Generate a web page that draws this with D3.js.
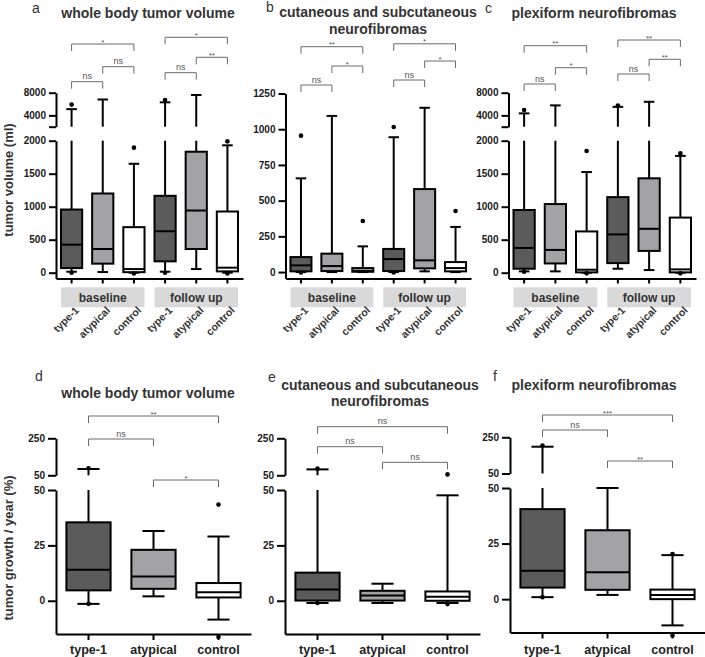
<!DOCTYPE html>
<html><head><meta charset="utf-8">
<script src="https://cdn.jsdelivr.net/npm/d3@7"></script>
<style>
body{margin:0;background:#fff}
svg{display:block}
text{font-family:"Liberation Sans",Arial,sans-serif}
</style>
</head><body><svg id="c" width="705" height="657"></svg>
<script>
// ---------------- DATA ----------------
const groups = ["type-1", "atypical", "control"];
const timepoints = ["baseline", "follow up"];
const groupColors = ["#5b5b5b", "#a3a3a5", "#ffffff"];

// box stats: [low whisker, Q1, median, Q3, high whisker]
// order: baseline type-1, atypical, control, follow up type-1, atypical, control
const volWholeBody = [
  [15, 70, 425, 957, 5100],
  [10, 137, 359, 1200, 6800],
  [0, 8, 55, 690, 1650],
  [15, 172, 628, 1165, 6300],
  [55, 359, 942, 1833, 7600],
  [0, 20, 76, 927, 1930]
];
const volWholeBodyOut = [[5900, 0], [], [1895, -12], [6700, 0], [], [1990, -12]];

const volCutaneous = [
  [0, 5, 47, 105, 656],
  [0, 7, 42, 129, 1093],
  [0, 2, 10, 28, 180],
  [0, 7, 91, 162, 944],
  [5, 26, 82, 581, 1150],
  [0, 5, 28, 70, 316]
];
const volCutaneousOut = [[955, -3], [], [358], [1015, -3], [], [428]];

const volPlexiform = [
  [20, 60, 375, 950, 4350],
  [20, 140, 345, 1040, 5760],
  [0, 5, 45, 625, 1525],
  [60, 145, 580, 1145, 5500],
  [40, 330, 665, 1430, 6400],
  [0, 5, 50, 835, 1770]
];
const volPlexiformOut = [[4930, 15], [], [1845, -10], [5750], [], [1810, -10]];

// order: type-1, atypical, control
const growthWholeBody = [
  [-1.4, 4.7, 14, 35.4, 84],
  [2, 5.4, 11, 23, 31.5],
  [-8.5, 1.5, 3.9, 8, 29]
];
const growthWholeBodyOut = [[88, -1.4], [], [43.4, -16.4]];

const growthCutaneous = [
  [-1, 0.1, 5.1, 12.7, 82],
  [-1, 0.1, 2.4, 4.5, 7.7],
  [-1, 0, 1.8, 4.2, 47.6]
];
const growthCutaneousOut = [[86, -1], [], [55, -1.5]];

const growthPlexiform = [
  [0.9, 5.2, 12.8, 40.5, 198],
  [1.9, 4.2, 12.1, 31, 50],
  [-11.8, 0, 1.9, 4.3, 19.8]
];
const growthPlexiformOut = [[205, 0.9], [], [20.3, -16.3]];

// significance: [from, to, label]
const sigVolWholeBody = [[0, 2, "*"], [0, 1, "ns"], [1, 2, "ns"], [3, 5, "*"], [3, 4, "ns"], [4, 5, "**"]];
const sigVolCutaneous = [[0, 2, "**"], [0, 1, "ns"], [1, 2, "*"], [3, 5, "*"], [3, 4, "ns"], [4, 5, "*"]];
const sigVolPlexiform = [[0, 2, "**"], [0, 1, "ns"], [1, 2, "*"], [3, 5, "**"], [3, 4, "ns"], [4, 5, "**"]];
const sigGrowthWholeBody = [[0, 2, "**"], [0, 1, "ns"], [1, 2, "*"]];
const sigGrowthCutaneous = [[0, 2, "ns"], [0, 1, "ns"], [1, 2, "ns"]];
const sigGrowthPlexiform = [[0, 2, "***"], [0, 1, "ns"], [1, 2, "**"]];

// tick values
const volTicksLower = [0, 500, 1000, 1500, 2000];
const volTicksUpper = [2000, 4000, 8000];
const volTicksCut = [0, 250, 500, 750, 1000, 1250];
const growthTicksLower = [0, 25, 50];
const growthTicksUpper = [50, 250];

// titles
const titleWholeBody = ["whole body tumor volume"];
const titleCutaneous = ["cutaneous and subcutaneous", "neurofibromas"];
const titlePlexiform = ["plexiform neurofibromas"];
const yTitleTop = "tumor volume (ml)";
const yTitleBottom = "tumor growth / year (%)";

// ---------------- LAYOUT ----------------
const panels = [
  {letter: "a", letterPos: [32, 13], title: titleWholeBody, titleX: 148, titleY: [18], top: true,
   stats: volWholeBody, out: volWholeBodyOut, sig: sigVolWholeBody, sigY: [44, 81.7, 66.7, 37.3, 72.7, 57.3],
   xRange: [56, 243], lowerDomain: [-88, 2000], lowerRange: [278.5, 140.7], lowerTicks: volTicksLower,
   upperDomain: [2000, 8000], upperRange: [126.7, 92.7], upperTicks: volTicksUpper, yTitle: yTitleTop, yTitleY: 180},
  {letter: "b", letterPos: [266, 12], title: titleCutaneous, titleX: 378, titleY: [17, 34], top: true,
   stats: volCutaneous, out: volCutaneousOut, sig: sigVolCutaneous, sigY: [46.7, 85, 66, 43.8, 80, 61],
   xRange: [285.5, 471], lowerDomain: [-45, 1250], lowerRange: [278.5, 93.5], lowerTicks: volTicksCut},
  {letter: "c", letterPos: [485, 13], title: titlePlexiform, titleX: 594, titleY: [18], top: true,
   stats: volPlexiform, out: volPlexiformOut, sig: sigVolPlexiform, sigY: [45.7, 84, 67.7, 40, 74, 59.3],
   xRange: [508.5, 696], lowerDomain: [-88, 2000], lowerRange: [278.5, 140.7], lowerTicks: volTicksLower,
   upperDomain: [2000, 8000], upperRange: [126.7, 92.7], upperTicks: volTicksUpper},
  {letter: "d", letterPos: [35, 381], title: titleWholeBody, titleX: 148, titleY: [398], top: false,
   stats: growthWholeBody, out: growthWholeBodyOut, sig: sigGrowthWholeBody, sigY: [416, 439, 480],
   xRange: [56, 251], lowerDomain: [-15, 50], lowerRange: [634, 490], lowerTicks: growthTicksLower,
   upperDomain: [50, 250], upperRange: [475.3, 438.3], upperTicks: growthTicksUpper, yTitle: yTitleBottom, yTitleY: 548},
  {letter: "e", letterPos: [268, 382], title: titleCutaneous, titleX: 380, titleY: [390, 406], top: false,
   stats: growthCutaneous, out: growthCutaneousOut, sig: sigGrowthCutaneous, sigY: [426.7, 446.7, 462.3],
   xRange: [285, 480], lowerDomain: [-15, 50], lowerRange: [634, 490], lowerTicks: growthTicksLower,
   upperDomain: [50, 250], upperRange: [475.3, 438.3], upperTicks: growthTicksUpper},
  {letter: "f", letterPos: [493, 381], title: titlePlexiform, titleX: 594, titleY: [390], top: false,
   stats: growthPlexiform, out: growthPlexiformOut, sig: sigGrowthPlexiform, sigY: [415, 430, 461],
   xRange: [510, 705], lowerDomain: [-15, 50], lowerRange: [632.5, 488], lowerTicks: growthTicksLower,
   upperDomain: [50, 250], upperRange: [473.5, 437.3], upperTicks: growthTicksUpper}
];

const svg = d3.select("#c");

function styleAxis(sel, width) {
  sel.select(".domain").attr("stroke", "#000").attr("stroke-width", width);
  sel.selectAll(".tick line").attr("stroke", "#000").attr("stroke-width", width);
  sel.selectAll(".tick text").attr("font-size", 10).attr("font-weight", "bold").attr("fill", "#1a1a1a")
     .attr("font-family", '"Liberation Sans", Arial, sans-serif');
}

function drawPanel(p) {
  const g = svg.append("g");
  const n = p.stats.length;
  const x = d3.scaleBand().domain(d3.range(n)).range(p.xRange);
  const bw = x.bandwidth();
  const cx = i => x(i) + bw / 2;
  const yL = d3.scaleLinear().domain(p.lowerDomain).range(p.lowerRange);
  const yU = p.upperDomain ? d3.scaleLinear().domain(p.upperDomain).range(p.upperRange) : null;
  const brk = yU ? p.upperDomain[0] : Infinity;
  const y = v => (yU && v > brk) ? yU(v) : yL(v);
  const tickLen = p.top ? 7 : 8;
  const fmt = d3.format("d");

  // y axes
  const gL = g.append("g").attr("transform", `translate(${p.xRange[0]},0)`)
    .call(d3.axisLeft(yL).tickValues(p.lowerTicks).tickFormat(fmt).tickSize(tickLen).tickSizeOuter(0).tickPadding(3));
  styleAxis(gL, 2);
  if (yU) {
    const gU = g.append("g").attr("transform", `translate(${p.xRange[0]},0)`)
      .call(d3.axisLeft(yU).tickValues(p.upperTicks)
        .tickFormat(d => (p.top && d === p.upperDomain[0]) ? "" : fmt(d))
        .tickSize(tickLen).tickSizeOuter(0).tickPadding(3));
    styleAxis(gU, 2);
  }
  // x axis
  const gB = g.append("g").attr("transform", `translate(0,${p.lowerRange[0]})`)
    .call(d3.axisBottom(x).tickSize(p.top ? 5 : 6).tickSizeOuter(0).tickFormat(""));
  styleAxis(gB, 2);

  // boxes
  const boxW = bw * 0.68, capW = bw * 0.34;
  p.stats.forEach((s, i) => {
    const c = cx(i);
    const bg = g.append("g");
    const line = (y1, y2) => bg.append("line").attr("x1", c).attr("x2", c).attr("y1", y1).attr("y2", y2)
      .attr("stroke", "#000").attr("stroke-width", 2);
    const cap = yy => bg.append("line").attr("x1", c - capW / 2).attr("x2", c + capW / 2).attr("y1", yy).attr("y2", yy)
      .attr("stroke", "#000").attr("stroke-width", 2);
    line(y(s[1]), y(s[0])); cap(y(s[0]));
    if (yU && s[4] > brk) {
      line(y(s[3]), yL(brk));
      line(yU(brk), yU(s[4]));
    } else {
      line(y(s[3]), y(s[4]));
    }
    cap(y(s[4]));
    bg.append("rect").attr("x", c - boxW / 2).attr("width", boxW)
      .attr("y", y(s[3])).attr("height", y(s[1]) - y(s[3]))
      .attr("fill", groupColors[i % 3]).attr("stroke", "#000").attr("stroke-width", 2);
    bg.append("line").attr("x1", c - boxW / 2).attr("x2", c + boxW / 2)
      .attr("y1", y(s[2])).attr("y2", y(s[2])).attr("stroke", "#000").attr("stroke-width", 2);
    (p.out[i] || []).forEach(v => {
      bg.append("circle").attr("cx", c).attr("cy", y(v)).attr("r", 2.3).attr("fill", "#000");
    });
  });

  // significance brackets
  p.sig.forEach((b, k) => {
    const yt = p.sigY[k], x1 = cx(b[0]), x2 = cx(b[1]);
    g.append("path").attr("d", `M${x1},${yt + 7}V${yt}H${x2}V${yt + 7}`)
      .attr("fill", "none").attr("stroke", "#6a6a6a").attr("stroke-width", 1);
    const isNs = b[2] === "ns";
    g.append("text").attr("x", (x1 + x2) / 2).attr("y", isNs ? yt - 2.5 : yt + 0.5)
      .attr("text-anchor", "middle").attr("font-size", isNs ? 9 : 8)
      .attr("fill", "#555").text(b[2]);
  });

  // category labels
  if (p.top) {
    timepoints.forEach((tp, t) => {
      const xa = x(t * 3) + 5, xb = x(t * 3 + 2) + bw - 5;
      g.append("rect").attr("x", xa).attr("y", 287.3).attr("width", xb - xa).attr("height", 20).attr("fill", "#d9d9d9");
      g.append("text").attr("x", (xa + xb) / 2).attr("y", 301.5).attr("text-anchor", "middle")
        .attr("font-size", 12).attr("font-weight", "bold").attr("fill", "#333").text(tp);
    });
    d3.range(n).forEach(i => {
      g.append("text").attr("transform", `translate(${cx(i) + 8},${311}) rotate(-45)`)
        .attr("text-anchor", "end").attr("font-size", 10.5).attr("font-weight", "bold").attr("fill", "#333")
        .text(groups[i % 3]);
    });
  } else {
    d3.range(n).forEach(i => {
      g.append("text").attr("x", cx(i)).attr("y", 654).attr("text-anchor", "middle")
        .attr("font-size", 12.5).attr("font-weight", "bold").attr("fill", "#222").text(groups[i]);
    });
  }

  // title + letter
  p.title.forEach((t, k) => {
    g.append("text").attr("x", p.titleX).attr("y", p.titleY[k]).attr("text-anchor", "middle")
      .attr("font-size", 14).attr("font-weight", "bold").attr("fill", "#333").text(t);
  });
  g.append("text").attr("x", p.letterPos[0]).attr("y", p.letterPos[1]).attr("font-size", 14)
    .attr("fill", "#333").text(p.letter);

  if (p.yTitle) {
    g.append("text").attr("transform", `translate(13,${p.yTitleY}) rotate(-90)`).attr("text-anchor", "middle")
      .attr("font-size", 13).attr("font-weight", "bold").attr("fill", "#333").text(p.yTitle);
  }
}

panels.forEach(drawPanel);
</script>
</body></html>
